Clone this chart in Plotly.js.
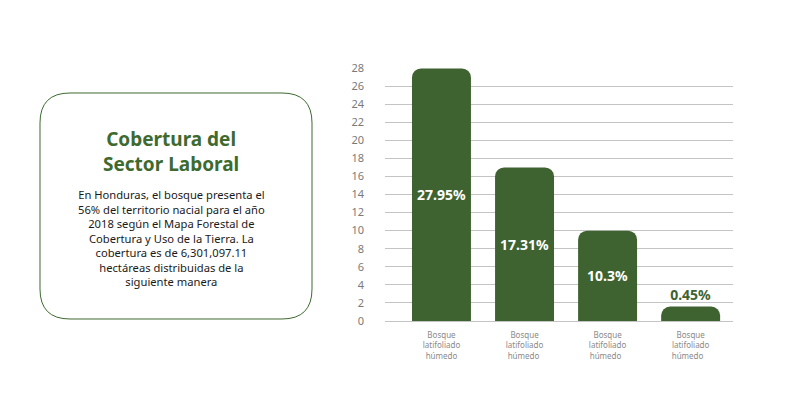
<!DOCTYPE html>
<html><head><meta charset="utf-8">
<script src="https://cdn.plot.ly/plotly-3.0.1.min.js"></script>
<style>html,body{margin:0;padding:0;background:#fff;}#chart{width:792px;height:394px;}</style>
</head><body><div id="chart"></div>
<script>
// Data
const categories = ["Bosque<br>latifoliado<br>húmedo", "Bosque<br>latifoliado<br>húmedo ", "Bosque<br>latifoliado<br>húmedo  ", "Bosque<br>latifoliado<br>húmedo   "];
const barValues = [27.95, 17.0, 10.0, 1.6];
const barLabels = ["27.95%", "17.31%", "10.3%", "0.45%"];
const yTicks = [0, 2, 4, 6, 8, 10, 12, 14, 16, 18, 20, 22, 24, 26, 28];
const boxTitleLines = ["Cobertura del", "Sector Laboral"];
const boxBodyLines = [
  "En Honduras, el bosque presenta el",
  "56% del territorio nacial para el año",
  "2018 según el Mapa Forestal de",
  "Cobertura y Uso de la Tierra. La",
  "cobertura es de 6,301,097.11",
  "hectáreas distribuidas de la",
  "siguiente manera"
];

const W = 792, H = 394;
const mL = 385, mR = 59, mT = 68, mB = 73;
const pw = W - mL - mR, ph = H - mT - mB;
const px = x => (x - mL) / pw;
const py = y => (H - mB - y) / ph;

const green = "#3f6330";

// rounded box path in paper coords
function roundedBox(x0, y0, x1, y1, r) {
  const P = (x, y) => px(x).toFixed(5) + "," + py(y).toFixed(5);
  return "M" + P(x0 + r, y0) + " L" + P(x1 - r, y0) + " Q" + P(x1, y0) + " " + P(x1, y0 + r) +
    " L" + P(x1, y1 - r) + " Q" + P(x1, y1) + " " + P(x1 - r, y1) +
    " L" + P(x0 + r, y1) + " Q" + P(x0, y1) + " " + P(x0, y1 - r) +
    " L" + P(x0, y0 + r) + " Q" + P(x0, y0) + " " + P(x0 + r, y0) + " Z";
}

const annotations = [
  {xref: "paper", yref: "paper", x: px(171), y: py(151), text: boxTitleLines.map(t => "<b>" + t + "</b>").join("<br>"),
    showarrow: false, xanchor: "center", yanchor: "middle", borderpad: 0,
    font: {family: "Noto Sans, sans-serif", size: 19, color: "#3e6a2f"}},
  {xref: "paper", yref: "paper", x: px(171), y: py(237.5), text: boxBodyLines.join("<br>"),
    showarrow: false, xanchor: "center", yanchor: "middle", align: "center", borderpad: 0,
    font: {family: "Noto Sans, sans-serif", size: 11.2, color: "#1a1a1a"}}
];

const trace = {
  type: "bar",
  x: categories,
  y: barValues,
  text: barLabels,
  textposition: ["inside", "inside", "inside", "outside"],
  insidetextanchor: "middle",
  constraintext: "none",
  cliponaxis: false,
  textfont: {family: "Noto Sans, sans-serif", size: 14, color: "#ffffff", weight: 700},
  insidetextfont: {family: "Noto Sans, sans-serif", size: 14, color: "#ffffff", weight: 700},
  outsidetextfont: {family: "Noto Sans, sans-serif", size: 14, color: green, weight: 700},
  marker: {color: green, cornerradius: 9},
  hoverinfo: "skip"
};

const layout = {
  width: W, height: H,
  margin: {l: mL, r: mR, t: mT, b: mB},
  paper_bgcolor: "#ffffff", plot_bgcolor: "#ffffff",
  showlegend: false,
  bargap: 0.29,
  xaxis: {
    range: [-0.68, 3.51],
    showgrid: false, zeroline: false, showline: false,
    tickfont: {family: "Noto Sans, sans-serif", size: 8, color: "#8a8a8a"},
    ticks: "", ticklabelstandoff: 8, fixedrange: true
  },
  yaxis: {
    range: [0, 28],
    tickvals: yTicks,
    ticktext: yTicks.map(String),
    showgrid: true, gridcolor: "#c4c4c4", gridwidth: 1,
    zeroline: true, zerolinecolor: "#c4c4c4", zerolinewidth: 1,
    showline: false, ticks: "",
    ticklabelstandoff: 20,
    tickfont: {family: "Noto Sans, sans-serif", size: 11, color: "#7a7a7a"},
    fixedrange: true
  },
  shapes: [{
    type: "path", xref: "paper", yref: "paper",
    path: roundedBox(40, 93, 312, 319, 30),
    line: {color: "#3e6a2f", width: 1}, fillcolor: "rgba(0,0,0,0)", layer: "above"
  }],
  annotations: annotations
};

Plotly.newPlot("chart", [trace], layout, {displayModeBar: false, staticPlot: true});
</script></body></html>
